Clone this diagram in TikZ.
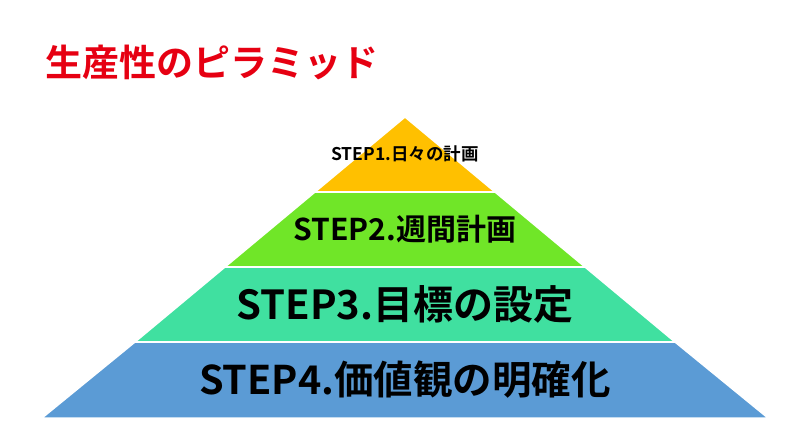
\documentclass[tikz,border=0pt]{standalone}
\usepackage{fontspec}
\setmainfont{Noto Sans CJK JP}[BoldFont={Noto Sans CJK JP Bold}]
\begin{document}
\begin{tikzpicture}[x=1pt,y=-1pt,
  lay/.style={draw=white,line width=1.5pt},
  lab/.style={font=\bfseries,text=black,inner sep=0}]
\useasboundingbox (0,0) rectangle (800,439);
\fill[lay,fill={rgb,255:red,255;green,192;blue,0}] (405,117) -- (495,192) -- (315,192) -- cycle;
\fill[lay,fill={rgb,255:red,112;green,230;blue,40}] (315,192) -- (495,192) -- (585,267) -- (225,267) -- cycle;
\fill[lay,fill={rgb,255:red,64;green,224;blue,160}] (225,267) -- (585,267) -- (675,342) -- (135,342) -- cycle;
\fill[lay,fill={rgb,255:red,91;green,155;blue,213}] (135,342) -- (675,342) -- (768,418) -- (42,418) -- cycle;
\draw[white,line width=1.5pt] (315,192) -- (495,192) (225,267) -- (585,267) (135,342) -- (675,342);
\node[lab,font=\bfseries\fontsize{17.5}{17.5}\selectfont] (s1) at (405,154) {STEP1.日々の計画};
\node[lab,font=\bfseries\fontsize{30}{30}\selectfont] (s2) at (405,229) {STEP2.週間計画};
\node[lab,font=\bfseries\fontsize{40}{40}\selectfont] (s3) at (405,304) {STEP3.目標の設定};
\node[lab,font=\bfseries\fontsize{39.5}{39.5}\selectfont] (s4) at (405,380) {STEP4.価値観の明確化};
\node[lab,anchor=west,text={rgb,255:red,230;green,0;blue,18},font=\bfseries\fontsize{37}{37}\selectfont] (t) at (45,62) {生産性のピラミッド};
\end{tikzpicture}
\end{document}
